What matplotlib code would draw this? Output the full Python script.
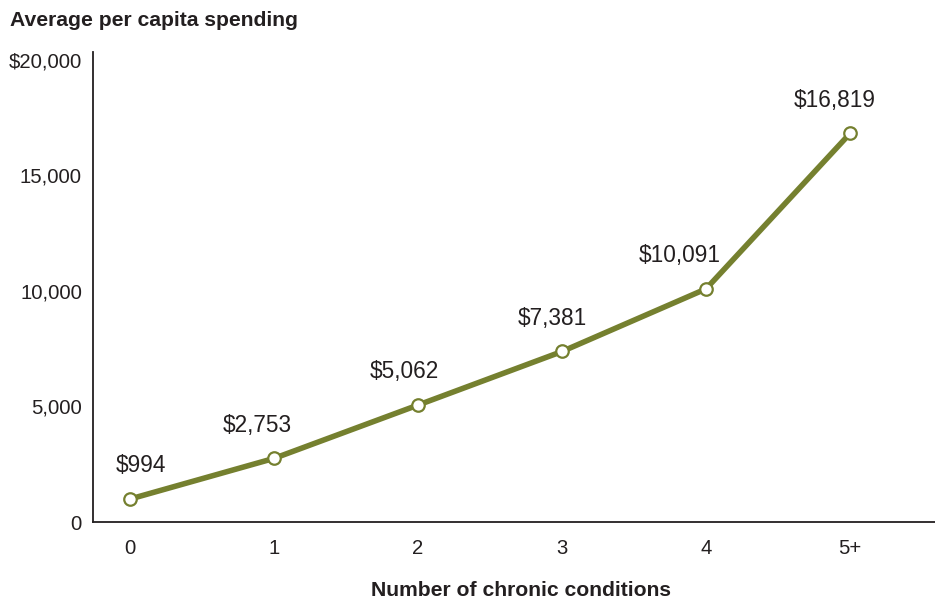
import matplotlib
matplotlib.use("Agg")
import matplotlib.pyplot as plt

plt.rcParams['font.family'] = ['Liberation Sans', 'DejaVu Sans']

categories = ["0", "1", "2", "3", "4", "5+"]
spending = [994, 2753, 5062, 7381, 10091, 16819]
value_labels = ["$994", "$2,753", "$5,062", "$7,381", "$10,091", "$16,819"]
yticks = [0, 5000, 10000, 15000, 20000]
ytick_labels = ["0", "5,000", "10,000", "15,000", "$20,000"]

line_color = "#75802f"
text_color = "#231f20"

fig = plt.figure(figsize=(9.35, 6.02), dpi=100)
ax = fig.add_axes([93/935, 1-522/602, 1-93/935, (522-52)/602])

x = list(range(len(categories)))
ax.plot(x, spending, color=line_color, lw=4.0, zorder=2,
        marker='o', markersize=9, markerfacecolor='white',
        markeredgecolor=line_color, markeredgewidth=1.6, solid_capstyle='round')

label_dx = [8, -12, -10, -7, -19, -11]
for xi, v, lab, dx in zip(x, spending, value_labels, label_dx):
    ax.annotate(lab, (xi, v), xytext=(dx, 24), textcoords='offset points',
                ha='center', va='center', fontsize=16.3, color=text_color)

ax.set_xlim(-0.257, 5.59)
ax.set_ylim(0, 20345)
ax.set_xticks(x)
ax.set_xticklabels(categories)
ax.set_yticks(yticks)
ax.set_yticklabels(ytick_labels)
ax.tick_params(axis='both', length=0, labelsize=14.6, colors=text_color)
ax.tick_params(axis='y', pad=8)
ax.tick_params(axis='x', pad=12)

for s in ['top', 'right']:
    ax.spines[s].set_visible(False)
for s in ['left', 'bottom']:
    ax.spines[s].set_color(text_color)
    ax.spines[s].set_linewidth(1.3)

fig.text(10/935, 1-20/602, "Average per capita spending", fontsize=15.2,
         fontweight='bold', color=text_color, ha='left', va='center')
fig.text(521/935, 1-590/602, "Number of chronic conditions", fontsize=15.2,
         fontweight='bold', color=text_color, ha='center', va='center')

fig.savefig("out.png", dpi=100)
